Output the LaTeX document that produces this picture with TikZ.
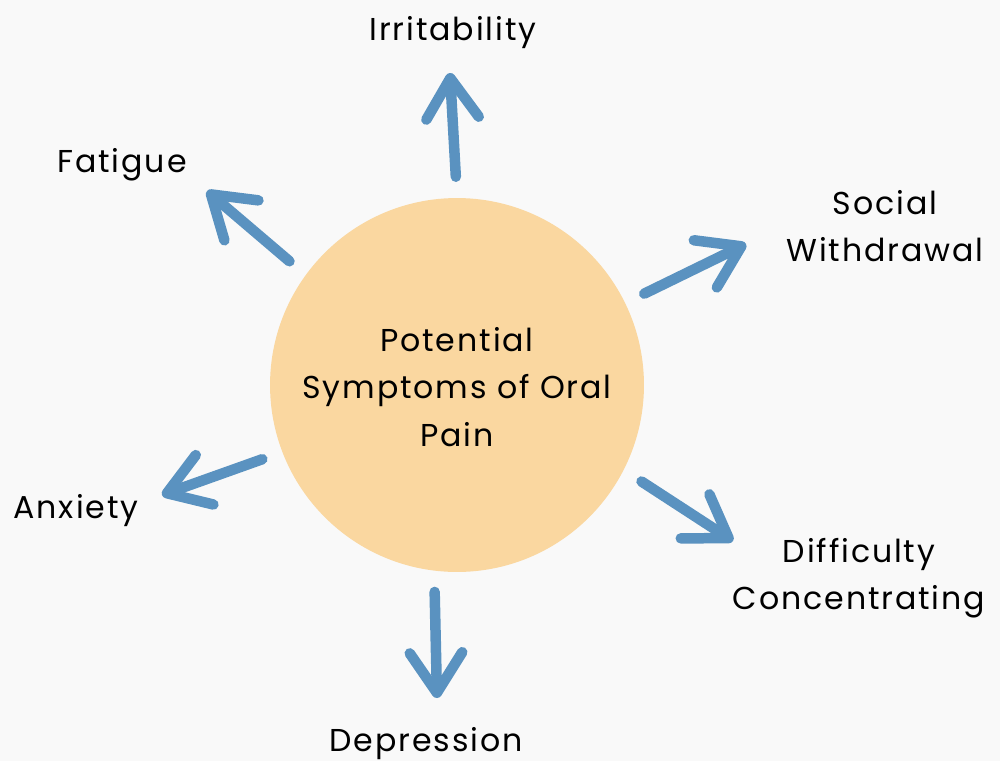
\documentclass[tikz,border=0pt]{standalone}
\usepackage{fontspec}
\setmainfont{Poppins}[LetterSpace=6]
\usetikzlibrary{arrows.meta}

\definecolor{bgGray}{HTML}{F9F9F9}
\definecolor{peach}{HTML}{FAD7A0}
\definecolor{arrBlue}{HTML}{5A92C0}

\begin{document}
\begin{tikzpicture}[
    x=0.02cm, y=-0.02cm,
    lbl/.style={align=center, font=\fontsize{18}{27}\selectfont, inner sep=0pt},
    arr/.style={arrBlue, line width=0.21cm, line cap=round, line join=round,
        -{Straight Barb[length=0.8cm, width=1.05cm, line cap=round, line join=round]},
        shorten <=0.42cm}
]
\path[fill=bgGray, use as bounding box] (0,0) rectangle (1000,761);

% centre
\node[circle, fill=peach, minimum size=7.48cm, inner sep=0pt] (pain) at (457,385) {};
\node[lbl] (title) at (457,387) {Potential\\Symptoms of Oral\\Pain};

% labels
\node[lbl] (irr) at (453,33) {Irritability};
\node[lbl] (fat) at (122,165) {Fatigue};
\node[lbl] (soc) at (885,226) {Social\\Withdrawal};
\node[lbl] (anx) at (76,511) {Anxiety};
\node[lbl] (dif) at (859,578) {Difficulty\\Concentrating};
\node[lbl] (dep) at (426,744) {Depression};

% arrow heads
\coordinate (irrHead) at (450,73);
\coordinate (fatHead) at (207,191);
\coordinate (socHead) at (746,244);
\coordinate (anxHead) at (162,495);
\coordinate (difHead) at (733,541);
\coordinate (depHead) at (437,698);

\draw[arr] (pain.90) -- (irrHead);
\draw[arr] (pain.144) -- (fatHead);
\draw[arr] (pain.26) -- (socHead);
\draw[arr] (pain.201) -- (anxHead);
\draw[arr] (pain.333) -- (difHead);
\draw[arr] (pain.263) -- (depHead);
\end{tikzpicture}
\end{document}
